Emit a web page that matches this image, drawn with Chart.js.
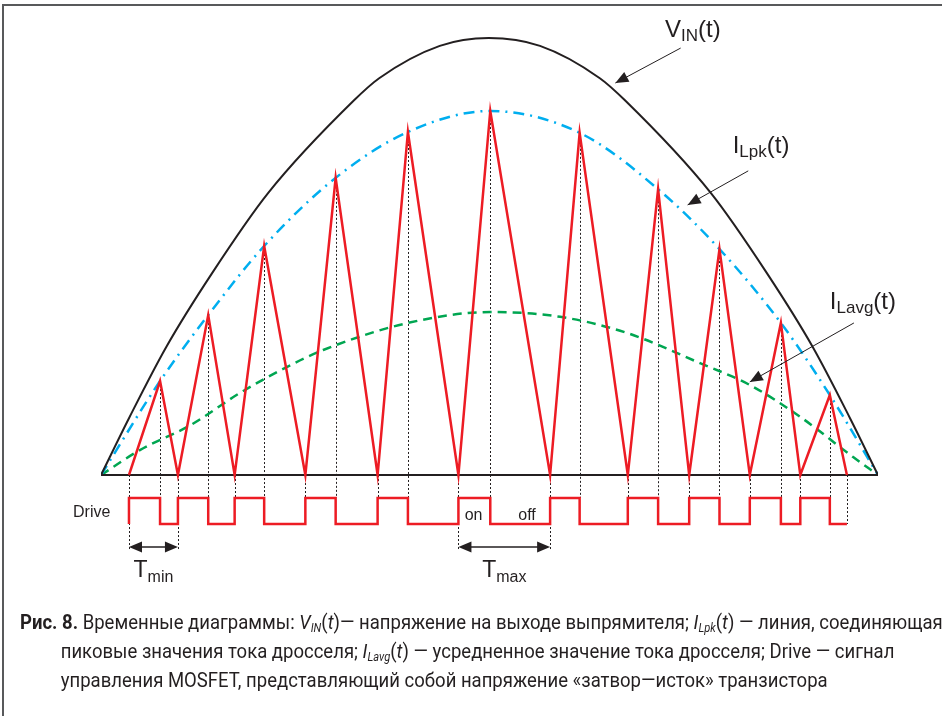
<!DOCTYPE html>
<html>
<head>
<meta charset="utf-8">
<script src="https://cdn.jsdelivr.net/npm/chart.js@4.4.1/dist/chart.umd.min.js"></script>
<style>
  html, body { margin: 0; padding: 0; background: #fff; overflow: hidden; }
  body { width: 942px; height: 716px; position: relative; }
  .frame { position: absolute; left: 2px; top: 4px; width: 1000px; height: 800px; border: 2px solid #58595b; }
  #chart { position: absolute; left: 0; top: 0; }
  .caption { position: absolute; left: 20px; top: 608px; font-family: Roboto, "Noto Sans", sans-serif; font-size: 20px; color: #231f20; transform-origin: 0 0; white-space: nowrap; }
  .caption div { height: 29px; line-height: 29px; }
  .caption .ind { padding-left: 44px; }
  .caption sub { font-size: 12px; vertical-align: -3px; line-height: 0; }
</style>
</head>
<body>
<div class="frame"></div>
<canvas id="chart" width="942" height="716"></canvas>
<div class="caption" id="caption">
  <div><span><b>Рис. 8.</b> Временные диаграммы: <i>V<sub>IN</sub></i>(<i>t</i>)— напряжение на выходе выпрямителя; <i>I<sub>Lpk</sub></i>(<i>t</i>) — линия, соединяющая</span></div>
  <div class="ind"><span id="line2">пиковые значения тока дросселя; <i>I<sub>Lavg</sub></i>(<i>t</i>) — усредненное значение тока дросселя; Drive — сигнал</span></div>
  <div class="ind"><span>управления MOSFET, представляющий собой напряжение «затвор—исток» транзистора</span></div>
</div>
<script>
// time in ms over one rectified half-period, amplitude normalised to the V_IN peak
const vinT = [0, 0.36, 0.84, 1.43, 2.15, 3.26, 3.58, 4.36, 4.99, 5.65, 6.42, 6.74, 7.85, 8.57, 9.16, 9.64, 10];
const vinA = [0, 0.130, 0.293, 0.462, 0.645, 0.858, 0.908, 0.982, 1.0, 0.982, 0.908, 0.858, 0.645, 0.462, 0.293, 0.130, 0];

// inductor current: switching instants and current at each instant
const waveT = [0.36, 0.76, 0.99, 1.38, 1.72, 2.10, 2.63, 3.02, 3.56, 3.95, 4.60, 5.01, 5.78, 6.16, 6.78, 7.17, 7.57, 7.96, 8.35, 8.75, 9.00, 9.38, 9.60];
const waveA = [0, 0.215, 0, 0.366, 0, 0.524, 0, 0.680, 0, 0.785, 0, 0.833, 0, 0.783, 0, 0.654, 0, 0.517, 0, 0.348, 0, 0.183, 0];

// envelope through the current peaks
const lpkT = [0, 0.76, 1.38, 2.10, 3.02, 3.95, 5.01, 6.16, 7.17, 7.96, 8.75, 9.38, 10];
const lpkA = [0, 0.215, 0.366, 0.524, 0.680, 0.785, 0.833, 0.783, 0.654, 0.517, 0.348, 0.183, 0];

// average inductor current
const lavgT = [0, 0.50, 1.15, 1.79, 2.39, 2.86, 3.95, 5.01, 5.91, 6.77, 7.71, 8.35, 9.00, 9.68, 10];
const lavgA = [0, 0.057, 0.114, 0.188, 0.247, 0.286, 0.348, 0.373, 0.362, 0.325, 0.256, 0.206, 0.133, 0.041, 0];

// gate drive: high from each valley to the next peak
const drive = [{ x: waveT[0], y: 0 }];
waveT.forEach((t, i) => {
  if (i < waveT.length - 1) drive.push({ x: t, y: i % 2 === 0 ? 1 : 0 });
  else drive.push({ x: t, y: 0 });
});

const xy = (ts, as) => ts.map((t, i) => ({ x: t, y: as[i] }));

const INK = '#231f20';
const RED = '#ed1c24';
const FONT = '"Liberation Sans", Arial, sans-serif';

// labels and pointers in chart units (t, amplitude)
const notes = [
  { text: ['V', 'IN', '(t)'], at: [7.26, 1.002], from: [7.46, 0.977], to: [6.62, 0.897] },
  { text: ['I', 'Lpk', '(t)'], at: [8.13, 0.737], from: [8.33, 0.696], to: [7.55, 0.618] },
  { text: ['I', 'Lavg', '(t)'], at: [9.38, 0.380], from: [9.69, 0.348], to: [8.35, 0.213] }
];
const spans = [
  { from: 0, to: 2, sub: 'min' },
  { from: 10, to: 12, sub: 'max' }
];

function subText(ctx, x, y, parts, big, small, drop) {
  ctx.font = big + 'px ' + FONT;
  ctx.fillText(parts[0], x, y);
  x += ctx.measureText(parts[0]).width;
  ctx.font = small + 'px ' + FONT;
  ctx.fillText(parts[1], x, y + drop);
  x += ctx.measureText(parts[1]).width;
  if (parts[2]) {
    ctx.font = big + 'px ' + FONT;
    ctx.fillText(parts[2], x, y);
  }
}

function head(ctx, x1, y1, x2, y2, len, half) {
  const a = Math.atan2(y2 - y1, x2 - x1);
  ctx.beginPath();
  ctx.moveTo(x2, y2);
  ctx.lineTo(x2 - len * Math.cos(a) + half * Math.sin(a), y2 - len * Math.sin(a) - half * Math.cos(a));
  ctx.lineTo(x2 - len * Math.cos(a) - half * Math.sin(a), y2 - len * Math.sin(a) + half * Math.cos(a));
  ctx.closePath();
  ctx.fill();
}

const annot = {
  id: 'annot',
  beforeDatasetsDraw(chart) {
    const { ctx, scales: { x, y, yd } } = chart;
    ctx.save();
    ctx.strokeStyle = INK;
    ctx.lineWidth = 1;
    ctx.setLineDash([2, 2]);
    const last = waveT.length - 1;
    const arrowY = yd.getPixelForValue(0) + 23;
    waveT.forEach((t, i) => {
      const px = Math.round(x.getPixelForValue(t)) + 0.5;
      let bottom = yd.getPixelForValue(i === last ? 0 : 1);
      spans.forEach(s => { if (s.from === i || s.to === i) bottom = arrowY + 3; });
      ctx.beginPath();
      ctx.moveTo(px, y.getPixelForValue(waveA[i]));
      ctx.lineTo(px, bottom);
      ctx.stroke();
    });
    ctx.restore();
  },
  afterDatasetsDraw(chart) {
    const { ctx, scales: { x, y, yd } } = chart;
    ctx.save();
    ctx.fillStyle = INK;
    ctx.strokeStyle = INK;
    ctx.textBaseline = 'alphabetic';

    notes.forEach(n => {
      subText(ctx, x.getPixelForValue(n.at[0]), y.getPixelForValue(n.at[1]), n.text, 24, 17, 4);
      const x1 = x.getPixelForValue(n.from[0]), y1 = y.getPixelForValue(n.from[1]);
      const x2 = x.getPixelForValue(n.to[0]), y2 = y.getPixelForValue(n.to[1]);
      ctx.lineWidth = 1;
      ctx.beginPath();
      ctx.moveTo(x1, y1);
      ctx.lineTo(x2, y2);
      ctx.stroke();
      head(ctx, x1, y1, x2, y2, 13, 5.5);
    });

    // drive label and on/off marks
    ctx.font = '16px ' + FONT;
    ctx.fillText('Drive', x.getPixelForValue(-0.36), yd.getPixelForValue(0.27));
    ctx.fillText('on', x.getPixelForValue(4.68), yd.getPixelForValue(0.15));
    ctx.fillText('off', x.getPixelForValue(5.37), yd.getPixelForValue(0.15));

    // period spans
    const arrowY = yd.getPixelForValue(0) + 23;
    spans.forEach(s => {
      const xa = x.getPixelForValue(waveT[s.from]);
      const xb = x.getPixelForValue(waveT[s.to]);
      ctx.lineWidth = 1.5;
      ctx.beginPath();
      ctx.moveTo(xa + 8, arrowY);
      ctx.lineTo(xb - 8, arrowY);
      ctx.stroke();
      head(ctx, xb, arrowY, xa, arrowY, 13, 5.5);
      head(ctx, xa, arrowY, xb, arrowY, 13, 5.5);
      ctx.font = '23px ' + FONT;
      const w1 = ctx.measureText('T').width;
      ctx.font = '16px ' + FONT;
      const w2 = ctx.measureText(s.sub).width;
      subText(ctx, (xa + xb) / 2 - (w1 + w2) / 2, arrowY + 30, ['T', s.sub], 23, 16, 5);
    });
    ctx.restore();
  }
};

new Chart(document.getElementById('chart'), {
  type: 'line',
  data: {
    datasets: [
      { data: xy(waveT, waveA), borderColor: RED, borderWidth: 2.5, tension: 0, borderJoinStyle: 'miter' },
      { data: drive, yAxisID: 'yd', borderColor: RED, borderWidth: 2.5, stepped: 'before' },
      { data: [{ x: 0, y: 0 }, { x: 10, y: 0 }], borderColor: INK, borderWidth: 2 },
      { data: xy(vinT, vinA), borderColor: INK, borderWidth: 2, cubicInterpolationMode: 'monotone' },
      { data: xy(lpkT, lpkA), borderColor: '#00aeef', borderWidth: 2.5, borderDash: [11, 6, 2, 6], cubicInterpolationMode: 'monotone' },
      { data: xy(lavgT, lavgA), borderColor: '#00a651', borderWidth: 2.5, borderDash: [9, 6], cubicInterpolationMode: 'monotone' }
    ]
  },
  options: {
    responsive: false,
    animation: false,
    events: [],
    layout: { padding: { left: 101, right: 64, top: 10, bottom: 116 } },
    elements: { point: { radius: 0 } },
    plugins: { legend: { display: false }, tooltip: { enabled: false } },
    scales: {
      x: { type: 'linear', min: 0, max: 10, display: false },
      y: { min: -0.2860, max: 1.0641, display: false },
      yd: { min: -2.923, max: 19.769, display: false }
    }
  },
  plugins: [annot]
});

// fit the caption to the printed line length
const cap = document.getElementById('caption');
const l2 = document.getElementById('line2');
const s = 834 / l2.getBoundingClientRect().width;
cap.style.transform = 'scaleX(' + s.toFixed(3) + ')';
</script>
</body>
</html>
